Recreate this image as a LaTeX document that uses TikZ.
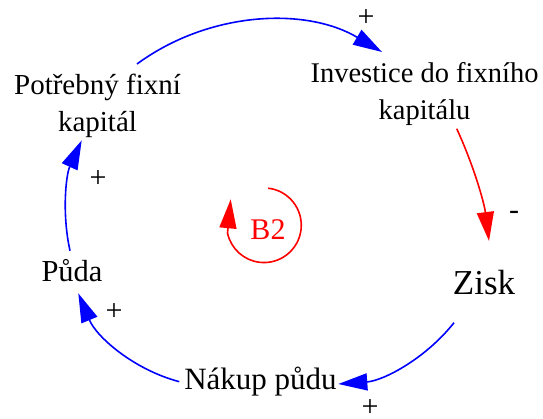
\documentclass[tikz,border=0pt]{standalone}
\usepackage{fontspec}
\setmainfont{Liberation Serif}
\usetikzlibrary{arrows.meta}
\definecolor{linkblue}{RGB}{0,0,255}
\definecolor{linkred}{RGB}{255,0,0}
\begin{document}
\begin{tikzpicture}[x=1pt,y=-1pt,
  lbl/.style={inner sep=0pt, text=black, align=center},
  pol/.style={inner sep=0pt, text=black, font=\fontsize{30}{30}\selectfont},
  tip/.style={-{Triangle[length=29pt,width=17pt]}},
  poslink/.style={line width=1.6pt, draw=linkblue, tip},
  neglink/.style={line width=1.6pt, draw=linkred, tip},
  loopsym/.style={line width=1.6pt, draw=linkred, tip}]
\useasboundingbox (0,0) rectangle (543,419);

% variables
\node[lbl, anchor=north, font=\fontsize{29}{37.5}\selectfont] (pot) at (97.5,69)
  {\rule{0pt}{25pt}Potřebný fixní\\kapitál\rule[-8pt]{0pt}{8pt}};
\node[lbl, anchor=north, font=\fontsize{28.5}{37}\selectfont] (inv) at (424.5,57)
  {\rule{0pt}{25pt}Investice do fixního\\kapitálu\rule[-8pt]{0pt}{8pt}};
\node[lbl, anchor=base, font=\fontsize{35}{40}\selectfont] (zisk) at (484,295) {Zisk};
\node[lbl, anchor=base, font=\fontsize{30.5}{36}\selectfont] (puda) at (72,282) {Půda};
\node[lbl, anchor=base, font=\fontsize{31}{36}\selectfont] (nakup) at (260.5,389) {Nákup půdu};
\node[lbl, anchor=base, text=linkred, font=\fontsize{30}{36}\selectfont] (b2) at (268,240) {B2};

% polarities
\node[pol] (p1) at (366,18) {+};
\node[pol] (p2) at (514,215.5) {-};
\node[pol] (p3) at (370,408) {+};
\node[pol] (p4) at (114,312) {+};
\node[pol] (p5) at (98,179) {+};

% links
\draw[poslink] ([shift={(39.5,-5)}]pot.north) .. controls +(71.8,-52.7) and +(-76.6,-45.4) .. ([shift={(-42.5,-5)}]inv.north);
\draw[neglink] ([shift={(32.2,1.3)}]inv.south) .. controls +(16.5,35.6) and +(-4.9,-38.9) .. ([shift={(5,-54)}]zisk.base);
\draw[poslink] ([shift={(-30,27.7)}]zisk.base) .. controls +(-28.3,35.75) and +(45.5,-3.3) .. ([shift={(77.8,-5)}]nakup.base);
\draw[poslink] ([shift={(-81.2,-7.3)}]nakup.base) .. controls +(-45.6,-12.1) and +(18.1,43.6) .. ([shift={(6.3,11.3)}]puda.base);
\draw[poslink] ([shift={(-2,-31.3)}]puda.base) .. controls +(-8.2,-37.1) and +(-15.8,34.6) .. ([shift={(-15.8,0.5)}]pot.south);

% loop symbol
\draw[loopsym] ([shift={(0.2,-51.8)}]b2.base) arc[start angle=-83.5, end angle=168, radius=37.3] -- ([shift={(-37.3,-40.7)}]b2.base);
\end{tikzpicture}
\end{document}
